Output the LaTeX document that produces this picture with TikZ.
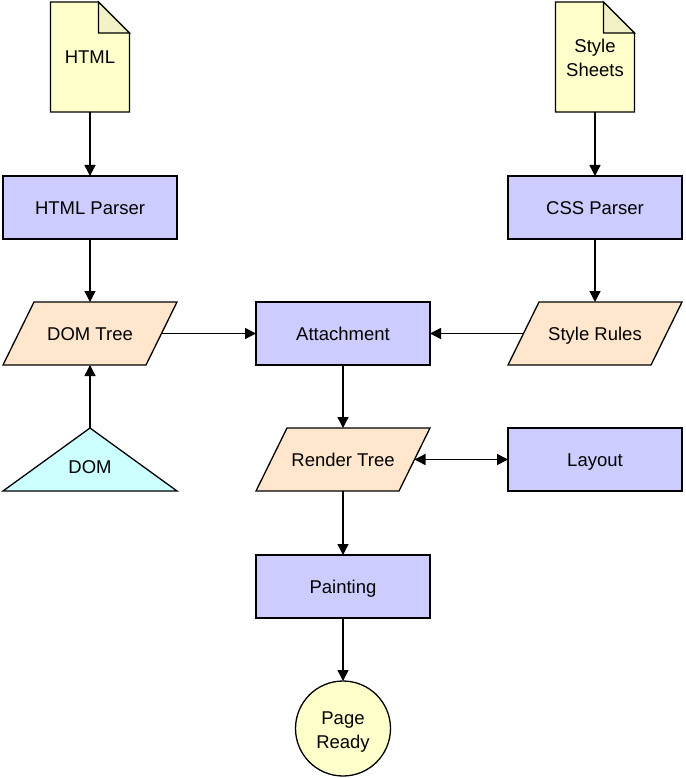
\documentclass[tikz,border=0pt]{standalone}
\usepackage{fontspec}
\setmainfont{Liberation Sans}
\usepackage{tikz}
\usetikzlibrary{positioning, arrows.meta, backgrounds}

\definecolor{procblue}{HTML}{CCCCFF}
\definecolor{datapeach}{HTML}{FFE6CC}
\definecolor{docyellow}{HTML}{FFFFCC}
\definecolor{foldyellow}{HTML}{F2F2C6}
\definecolor{domcyan}{HTML}{CCFFFF}

\tikzset{
  proc/.style={draw, line width=1.3pt, fill=procblue, minimum width=174pt, minimum height=63pt},
  data/.style={minimum width=143pt, minimum height=63pt},
  docnode/.style={minimum width=79pt, minimum height=110pt},
  twolines/.style={align=center, text height=39pt},
  docshape/.style={draw, line width=1.3pt, fill=docyellow},
  foldshape/.style={draw, line width=1.3pt, fill=foldyellow},
  datashape/.style={draw, line width=1.3pt, fill=datapeach},
  domshape/.style={draw, line width=1.3pt, fill=domcyan},
  endnode/.style={draw, line width=1.3pt, circle, fill=docyellow, minimum size=95pt},
  link/.style={line width=1.4pt}
}

\begin{document}
\begin{tikzpicture}[x=1pt, y=-1pt, >={Triangle[length=11pt,width=11pt]},
                    every node/.style={font=\fontsize{18.5}{24}\selectfont, outer sep=0pt,
                                       text height=13.5pt, text depth=0pt}]
      \useasboundingbox (0,0) rectangle (685,778);

      % Linke Spalte
      \node[docnode] (html) at (90,57) {HTML};
      \node[proc, below=64pt of html] (htmlparser) {HTML Parser};
      \node[data, below=63pt of htmlparser] (domtree) {DOM Tree};
      \node (dom) at (90,467) {DOM};
      \coordinate (domtop) at (90,428);

      % Mittlere Spalte
      \node[proc] (attach) at (343,333.5) {Attachment};
      \node[data, below=63pt of attach] (render) {Render Tree};
      \node[proc, below=64pt of render] (paint) {Painting};
      \node[endnode, twolines, below=63pt of paint] (ready) {Page\\Ready};

      % Rechte Spalte
      \node[proc] (css) at (595,207.5) {CSS Parser};
      \node[docnode, twolines, above=64pt of css] (sheets) {Style\\Sheets};
      \node[data, below=63pt of css] (rules) {Style Rules};
      \node[proc, below=63pt of rules] (layout) {Layout};

      % Dokumente, Parallelogramme und DOM-Dreieck hinten
      \begin{scope}[on background layer]
        \foreach \d in {html, sheets} {
          \filldraw[docshape] (\d.south west) -- (\d.north west) -- ([xshift=-31pt]\d.north east)
              -- ([yshift=-31pt]\d.north east) -- (\d.south east) -- cycle;
          \filldraw[foldshape] ([xshift=-31pt]\d.north east) -- ([shift={(-31pt,-31pt)}]\d.north east)
              -- ([yshift=-31pt]\d.north east) -- cycle;
        }
        \foreach \d in {domtree, render, rules} {
          \filldraw[datashape] ([xshift=-15.5pt]\d.south west) -- ([xshift=15.5pt]\d.north west)
              -- ([xshift=15.5pt]\d.north east) -- ([xshift=-15.5pt]\d.south east) -- cycle;
        }
        \filldraw[domshape] (3,491) -- (domtop) -- (177,491) -- cycle;
      \end{scope}

      % Pfeile
      \draw[->, link] (html) -- (htmlparser);
      \draw[->, link] (htmlparser) -- (domtree);
      \draw[->, link] (domtop) -- (domtree);
      \draw[->, link] (sheets) -- (css);
      \draw[->, link] (css) -- (rules);
      \draw[->, link] (domtree) -- (attach);
      \draw[->, link] (rules) -- (attach);
      \draw[->, link] (attach) -- (render);
      \draw[<->, link] (render) -- (layout);
      \draw[->, link] (render) -- (paint);
      \draw[->, link] (paint) -- (ready);
\end{tikzpicture}
\end{document}
